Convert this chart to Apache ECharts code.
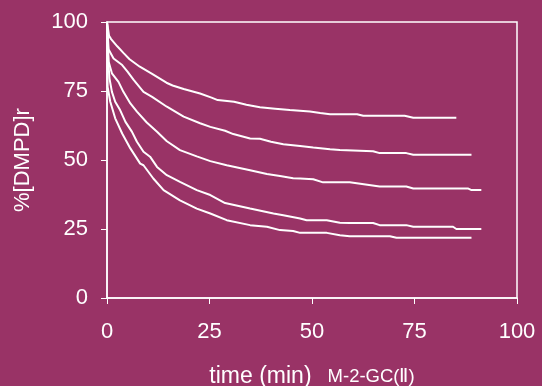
<!DOCTYPE html>
<html>
<head>
<meta charset="utf-8">
<script src="https://cdn.jsdelivr.net/npm/echarts@6/dist/echarts.min.js"></script>
<style>
  html, body { margin: 0; padding: 0; background: #993366; }
  #chart { width: 542px; height: 386px; }
</style>
</head>
<body>
<div id="chart"></div>
<script>
// Remaining DMPD fraction (%) versus time (min), five runs
const xTicks = [0, 25, 50, 75, 100];
const yTicks = [0, 25, 50, 75, 100];

const run1 = [[0,100],[0.5,95],[1,93.8],[2.5,91.2],[4,88.8],[5.5,86.5],[8,83.8],[11,81.2],[14.5,78],[16,77],[18.7,75.7],[22.7,74.1],[25.5,72.6],[27,71.7],[31,71.1],[34,70],[37.3,69.1],[41,68.6],[44.6,68.1],[49.5,67.6],[52,67],[54.4,66.6],[61,66.6],[62.5,66],[72.6,66],[74.7,65.3],[85.2,65.3]];
const run2 = [[0,100],[0.4,90],[1.6,86.8],[3.7,84.4],[5,82],[6.5,79],[8.9,74.7],[11,72.9],[14.6,69.3],[18.7,65.7],[22.7,63.3],[25.2,62],[28.8,60.6],[30.8,59.4],[34.9,57.8],[37.3,57.7],[40,56.6],[43,55.7],[47.1,55.1],[50.3,54.5],[54.4,53.9],[56.8,53.6],[64.9,53.2],[66.5,52.5],[73,52.5],[74.7,51.9],[88.9,51.9]];
const run3 = [[0,100],[0.4,85.6],[1.2,81.4],[2.8,78.3],[4,74.7],[5.7,70.5],[7.3,67.5],[9.7,63.6],[12.2,60.2],[14.6,56.8],[17.8,53.6],[21.9,51.3],[25.2,49.6],[29.2,48.1],[34.9,46.3],[39,44.9],[42.2,44.2],[45.4,43.4],[47.1,43.3],[50.3,43.0],[52.7,41.9],[59.2,41.9],[66.5,40.4],[73,40.4],[74.7,39.7],[88,39.7],[88.9,39.1],[91.3,39.1]];
const run4 = [[0,100],[0.3,86],[0.6,79.6],[1.2,74.7],[2,71.1],[3.2,68.1],[4.5,63.8],[6.1,60.2],[7.3,56.6],[8.9,53],[10.5,51.2],[12.2,47.5],[14.6,44.5],[17.8,42.1],[21.9,39.1],[25.2,37.3],[28.8,34.4],[34.9,32.4],[40.6,30.6],[43,30],[47.1,28.8],[48.7,28.2],[53.6,28.2],[56.8,27.3],[59.2,27.2],[64.9,27.2],[66.5,26.4],[73,26.4],[74.7,25.8],[84.4,25.8],[85.2,25],[91.3,25]];
const run5 = [[0,100],[0.15,76.5],[0.8,71.1],[2,65.1],[3.7,59.6],[5.7,54.2],[8.1,48.7],[8.9,48.1],[11.3,43.3],[13.8,39.1],[17.8,35.4],[21.9,32.4],[25.2,30.6],[29.2,28.2],[34.9,26.4],[39,25.8],[42.2,24.6],[45.4,24.3],[47.1,23.6],[53.6,23.6],[56.8,22.7],[59.2,22.4],[69,22.4],[70.6,21.8],[88.9,21.8]];

const runs = [run1, run2, run3, run4, run5];

const font = 'Liberation Sans, Arial, sans-serif';
const chart = echarts.init(document.getElementById('chart'), null, { renderer: 'canvas' });

chart.setOption({
  backgroundColor: '#993366',
  animation: false,
  grid: {
    left: 107, right: 25, top: 22, bottom: 88,
    outerBoundsMode: 'none',
    containLabel: false,
    show: true, borderColor: '#ffffff', borderWidth: 1.5,
    backgroundColor: 'transparent'
  },
  xAxis: {
    type: 'value',
    min: xTicks[0], max: xTicks[xTicks.length - 1], interval: 25,
    splitLine: { show: false },
    axisLine: { show: true, lineStyle: { color: '#ffffff', width: 1.5 } },
    axisTick: { show: true, inside: false, length: 6, lineStyle: { color: '#ffffff', width: 1 } },
    axisLabel: { color: '#ffffff', fontSize: 22, fontFamily: font, margin: 23 },
    name: '{a|time (min)}{b|M-2-GC(Ⅱ)}',
    nameLocation: 'middle',
    nameGap: 67,
    nameTextStyle: {
      rich: {
        a: { color: '#ffffff', fontSize: 23, fontFamily: font },
        b: { color: '#ffffff', fontSize: 18.5, fontFamily: font, padding: [0, 0, 0, 16] }
      }
    }
  },
  yAxis: {
    type: 'value',
    min: yTicks[0], max: yTicks[yTicks.length - 1], interval: 25,
    splitLine: { show: false },
    axisLine: { show: true, lineStyle: { color: '#ffffff', width: 1.5 } },
    axisTick: { show: true, inside: false, length: 6, lineStyle: { color: '#ffffff', width: 1 } },
    axisLabel: { color: '#ffffff', fontSize: 22, fontFamily: font, margin: 19 },
    name: '%[DMPD]r',
    nameLocation: 'middle',
    nameGap: 73,
    nameTextStyle: { color: '#ffffff', fontSize: 22, fontFamily: font }
  },
  series: runs.map(function (d) {
    return {
      type: 'line',
      data: d,
      showSymbol: false,
      smooth: false,
      lineStyle: { color: '#ffffff', width: 2 }
    };
  })
});
</script>
</body>
</html>
